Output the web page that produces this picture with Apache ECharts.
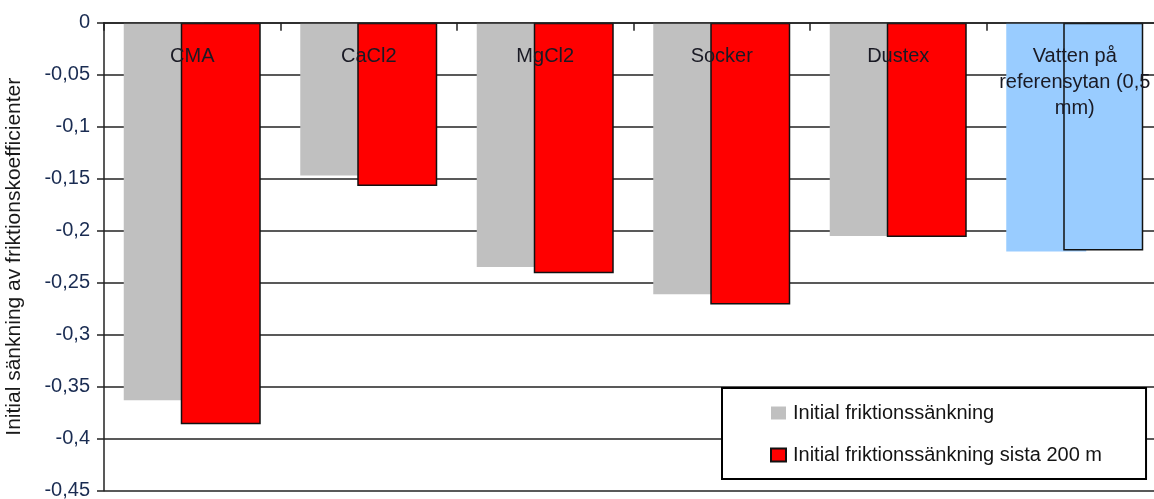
<!DOCTYPE html>
<html>
<head>
<meta charset="utf-8">
<script src="https://cdn.jsdelivr.net/npm/echarts@6/dist/echarts.min.js"></script>
<style>
  html, body { margin: 0; padding: 0; background: #fff; }
  #chart { width: 1154px; height: 499px; }
</style>
</head>
<body>
<div id="chart"></div>
<script>
// Friction reduction per de-icing / dust-binding agent
const categories = ['CMA', 'CaCl2', 'MgCl2', 'Socker', 'Dustex', 'Vatten på\nreferensytan (0,5\nmm)'];
const seriesNames = ['Initial friktionssänkning', 'Initial friktionssänkning sista 200 m'];
const initialDrop = [-0.363, -0.147, -0.235, -0.261, -0.205, -0.220];
const initialDropLast200 = [-0.386, -0.157, -0.241, -0.271, -0.206, -0.219];
const yTicks = { min: -0.45, max: 0, step: 0.05 };
const yTitle = 'Initial sänkning av friktionskoefficienter';

const FONT = '"Liberation Sans", Arial, sans-serif';
const refIndex = categories.length - 1; // reference surface (water) drawn in light blue

function fmt(v) {
  const r = Math.round(v * 100) / 100;
  return r === 0 ? '0' : String(r).replace('.', ',');
}

function withReference(values, baseStyle) {
  return values.map((v, i) => i === refIndex
    ? { value: v, itemStyle: Object.assign({}, baseStyle, { color: '#99CCFF' }) }
    : v);
}

const chart = echarts.init(document.getElementById('chart'), null, { renderer: 'canvas' });

chart.setOption({
  animation: false,
  backgroundColor: '#ffffff',
  grid: {
    left: 104, top: 22.7, right: -9, bottom: 8.3,
    containLabel: false,
    outerBoundsMode: 'none'
  },
  legend: {
    orient: 'vertical',
    left: 722,
    top: 388,
    padding: [15, 44, 14, 48],
    itemGap: 22,
    itemWidth: 15,
    itemHeight: 13,
    icon: 'rect',
    backgroundColor: '#ffffff',
    borderColor: '#000000',
    borderWidth: 2,
    textStyle: { fontFamily: FONT, fontSize: 20, color: '#141414', padding: [0, 0, 0, 2] },
    data: seriesNames
  },
  xAxis: {
    type: 'category',
    position: 'top',
    z: 10,
    data: categories,
    axisLine: { onZero: false, lineStyle: { color: '#222', width: 1.5 } },
    axisTick: { show: true, inside: true, length: 8, lineStyle: { color: '#222', width: 1.5 } },
    axisLabel: {
      inside: true,
      margin: 21,
      interval: 0,
      fontFamily: FONT,
      fontSize: 20,
      lineHeight: 26,
      color: '#1a1a24'
    },
    splitLine: { show: false }
  },
  yAxis: {
    type: 'value',
    min: yTicks.min,
    max: yTicks.max,
    interval: yTicks.step,
    name: yTitle,
    nameLocation: 'middle',
    nameRotate: 90,
    nameGap: 79,
    nameTextStyle: { fontFamily: FONT, fontSize: 21, color: '#1a1a1a' },
    axisLine: { show: true, lineStyle: { color: '#222', width: 1.5 } },
    axisTick: { show: true, length: 7, lineStyle: { color: '#222', width: 1.5 } },
    axisLabel: {
      margin: 14,
      fontFamily: FONT,
      fontSize: 20,
      color: '#1a2c52',
      formatter: fmt
    },
    splitLine: { show: true, lineStyle: { color: '#222', width: 1.6 } }
  },
  series: [
    {
      name: seriesNames[0],
      type: 'bar',
      barWidth: 80,
      barGap: '-28.75%',
      itemStyle: { color: '#C0C0C0' },
      data: withReference(initialDrop, {})
    },
    {
      name: seriesNames[1],
      type: 'bar',
      barWidth: 80,
      barGap: '-28.75%',
      itemStyle: { color: '#FF0000', borderColor: '#111', borderWidth: 1.5 },
      data: withReference(initialDropLast200, { borderColor: '#111', borderWidth: 1.5 })
    }
  ]
});
</script>
</body>
</html>
